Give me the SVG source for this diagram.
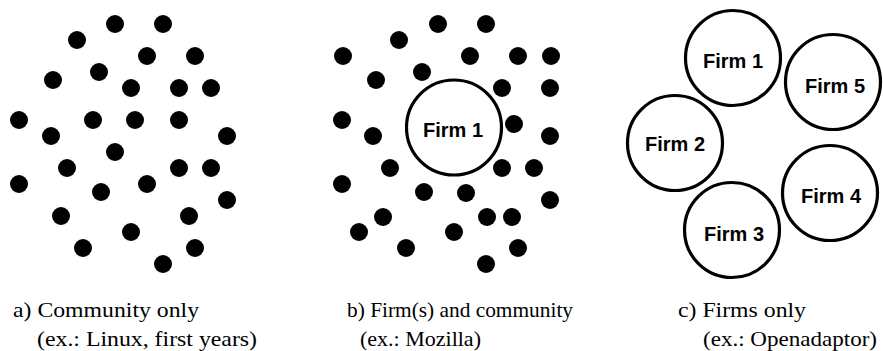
<svg xmlns="http://www.w3.org/2000/svg" width="883" height="351" viewBox="0 0 883 351">
  <style>
    .dot { fill: #000; }
    .firm { fill: #fff; stroke: #000; stroke-width: 3.2; }
    .firm-label { font-family: "Liberation Sans", Arial, sans-serif; font-weight: bold; font-size: 20px; text-anchor: middle; fill: #000; }
  </style>
  <defs>
    <circle id="m" r="9"/>
  </defs>
  <rect width="883" height="351" fill="#fff"/>

  <!-- a) community members only -->
  <g id="community-a" class="dot">
    <use href="#m" x="115" y="24"/><use href="#m" x="163" y="24"/>
    <use href="#m" x="77" y="40"/>
    <use href="#m" x="147" y="56"/><use href="#m" x="195" y="56"/>
    <use href="#m" x="99" y="72"/>
    <use href="#m" x="53" y="80"/>
    <use href="#m" x="131" y="88"/><use href="#m" x="179" y="88"/><use href="#m" x="211" y="88"/>
    <use href="#m" x="19" y="120"/><use href="#m" x="93" y="120"/><use href="#m" x="135" y="120"/><use href="#m" x="179" y="120"/>
    <use href="#m" x="51" y="136"/><use href="#m" x="227" y="136"/>
    <use href="#m" x="115" y="152"/>
    <use href="#m" x="67" y="168"/><use href="#m" x="179" y="168"/><use href="#m" x="211" y="168"/>
    <use href="#m" x="19" y="184"/><use href="#m" x="147" y="184"/>
    <use href="#m" x="101" y="192"/>
    <use href="#m" x="227" y="200"/>
    <use href="#m" x="61" y="216"/><use href="#m" x="189" y="216"/>
    <use href="#m" x="131" y="232"/>
    <use href="#m" x="83" y="248"/><use href="#m" x="195" y="248"/>
    <use href="#m" x="163" y="264"/>
  </g>

  <!-- b) community members around one firm -->
  <g id="community-b" class="dot">
    <use href="#m" x="438" y="24"/><use href="#m" x="486" y="24"/>
    <use href="#m" x="399" y="40"/>
    <use href="#m" x="343" y="56"/><use href="#m" x="470" y="56"/><use href="#m" x="518" y="56"/><use href="#m" x="551" y="56"/>
    <use href="#m" x="422" y="72"/>
    <use href="#m" x="376" y="80"/>
    <use href="#m" x="502" y="88"/><use href="#m" x="550" y="88"/>
    <use href="#m" x="342" y="120"/>
    <use href="#m" x="514" y="124"/>
    <use href="#m" x="373" y="136"/><use href="#m" x="550" y="136"/>
    <use href="#m" x="390" y="168"/><use href="#m" x="502" y="168"/><use href="#m" x="534" y="168"/>
    <use href="#m" x="342" y="184"/>
    <use href="#m" x="424" y="192"/><use href="#m" x="466" y="193"/>
    <use href="#m" x="550" y="200"/>
    <use href="#m" x="383" y="217"/><use href="#m" x="487" y="217"/><use href="#m" x="512" y="217"/>
    <use href="#m" x="359" y="232"/><use href="#m" x="454" y="232"/>
    <use href="#m" x="406" y="248"/><use href="#m" x="518" y="248"/>
    <use href="#m" x="486" y="264"/>
  </g>
  <g id="b-firm1">
    <circle class="firm" cx="454" cy="127.5" r="47.5"/>
    <text class="firm-label" x="453" y="137">Firm 1</text>
  </g>

  <!-- c) firms only -->
  <g id="c-firm1">
    <circle class="firm" cx="733" cy="58" r="47.5"/>
    <text class="firm-label" x="733" y="68">Firm 1</text>
  </g>
  <g id="c-firm5">
    <circle class="firm" cx="833" cy="82" r="47.5"/>
    <text class="firm-label" x="835" y="93">Firm 5</text>
  </g>
  <g id="c-firm2">
    <circle class="firm" cx="675" cy="143" r="47.5"/>
    <text class="firm-label" x="675" y="151">Firm 2</text>
  </g>
  <g id="c-firm4">
    <circle class="firm" cx="830" cy="193" r="47.5"/>
    <text class="firm-label" x="831" y="203">Firm 4</text>
  </g>
  <g id="c-firm3">
    <circle class="firm" cx="732" cy="230" r="47.5"/>
    <text class="firm-label" x="734" y="241">Firm 3</text>
  </g>

  <g id="connectors"/>

  <!-- captions -->
  <g id="captions" font-family="'Liberation Serif', 'Times New Roman', serif" font-size="22" fill="#000">
    <text x="13" y="317" textLength="186" lengthAdjust="spacingAndGlyphs">a) Community only</text>
    <text x="37" y="346" textLength="220" lengthAdjust="spacingAndGlyphs">(ex.: Linux, first years)</text>
    <text x="347" y="317" textLength="226" lengthAdjust="spacingAndGlyphs">b) Firm(s) and community</text>
    <text x="360" y="346">(ex.: Mozilla)</text>
    <text x="678" y="317" textLength="128" lengthAdjust="spacingAndGlyphs">c) Firms only</text>
    <text x="703" y="346" textLength="174" lengthAdjust="spacingAndGlyphs">(ex.: Openadaptor)</text>
  </g>
</svg>
